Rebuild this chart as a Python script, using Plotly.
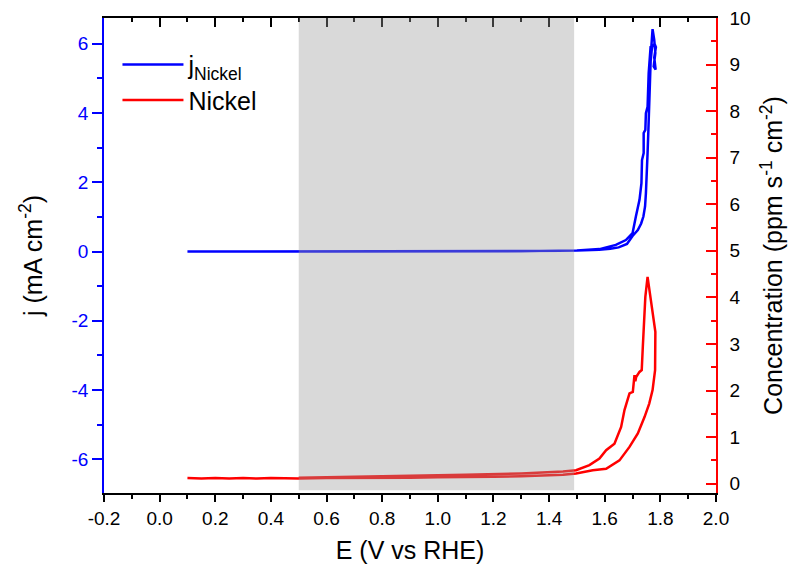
import plotly.graph_objects as go

# ---------------- data ----------------
# Blue: current density j (mA cm^-2) vs E (V vs RHE)
blue_E = [0.10, 0.30, 0.50, 0.70, 0.90, 1.10, 1.30, 1.45, 1.50, 1.55, 1.58, 1.62, 1.65, 1.68,
          1.700, 1.719, 1.731, 1.739, 1.745, 1.748, 1.752, 1.754, 1.757, 1.760, 1.763, 1.766, 1.772,
          1.778, 1.782, 1.776, 1.783, 1.778, 1.784, 1.779, 1.770, 1.762, 1.765, 1.760, 1.758,
          1.754, 1.748, 1.746, 1.740, 1.740, 1.734, 1.732, 1.725, 1.712, 1.708, 1.700, 1.676,
          1.640, 1.581, 1.50, 1.30, 1.00, 0.60, 0.10]
blue_j = [0.00, 0.00, 0.00, 0.00, 0.00, 0.005, 0.01, 0.02, 0.03, 0.04, 0.05, 0.08, 0.12, 0.22,
          0.45, 0.62, 0.81, 1.01, 1.30, 1.68, 2.26, 2.84, 3.51, 4.28, 4.96, 5.73, 6.42,
          6.11, 5.73, 5.34, 5.25, 5.60, 5.90, 6.00, 5.90, 5.25, 5.92, 5.50, 5.15,
          4.18, 3.99, 3.51, 3.42, 2.84, 2.64, 1.97, 1.49, 1.01, 0.82, 0.53, 0.33,
          0.19, 0.07, 0.03, 0.01, 0.00, 0.00, 0.00]

# Red: Nickel dissolution concentration (ppm s^-1 cm^-2) vs E
red_E = [0.10, 0.15, 0.20, 0.25, 0.30, 0.35, 0.40, 0.45, 0.50, 0.60, 0.70, 0.80, 0.90, 1.00,
         1.10, 1.20, 1.30, 1.40, 1.45, 1.497, 1.557, 1.605, 1.653, 1.689, 1.719, 1.743, 1.760,
         1.772, 1.781, 1.782, 1.754, 1.746, 1.736, 1.737, 1.733, 1.725, 1.713, 1.710, 1.707,
         1.701, 1.689, 1.671, 1.659, 1.635, 1.605, 1.581, 1.545, 1.497, 1.45, 1.30, 1.10,
         0.90, 0.70, 0.50]
red_c = [0.12, 0.11, 0.12, 0.11, 0.12, 0.11, 0.12, 0.11, 0.11, 0.12, 0.12, 0.13, 0.13, 0.14,
         0.14, 0.15, 0.16, 0.18, 0.19, 0.22, 0.29, 0.32, 0.50, 0.79, 1.08, 1.43, 1.72,
         2.01, 2.44, 3.26, 4.44, 4.01, 3.01, 2.95, 2.44, 2.40, 2.29, 2.20, 2.33,
         1.97, 1.94, 1.58, 1.22, 0.86, 0.72, 0.54, 0.40, 0.29, 0.26, 0.22, 0.19,
         0.17, 0.15, 0.13]

x_ticks = [-0.2, 0.0, 0.2, 0.4, 0.6, 0.8, 1.0, 1.2, 1.4, 1.6, 1.8, 2.0]
x_ticktext = ["-0.2", "0.0", "0.2", "0.4", "0.6", "0.8", "1.0", "1.2", "1.4", "1.6", "1.8", "2.0"]
x_minor = [-0.1, 0.1, 0.3, 0.5, 0.7, 0.9, 1.1, 1.3, 1.5, 1.7, 1.9]
y_ticks = [-6, -4, -2, 0, 2, 4, 6]
y_ticktext = ["-6", "-4", "-2", "0", "2", "4", "6"]
y_minor = [-5, -3, -1, 1, 3, 5]
shade_range = [0.5, 1.49]

FONT = "Liberation Sans, Arial, sans-serif"
BLUE = "#0000ff"
RED = "#ff0000"
TICK_SIZE = 19
TITLE_SIZE = 25

fig = go.Figure()
fig.add_trace(go.Scatter(x=blue_E, y=blue_j, mode="lines", name="j<sub>Nickel</sub>",
                         line=dict(color=BLUE, width=2.5), xaxis="x", yaxis="y"))
fig.add_trace(go.Scatter(x=red_E, y=red_c, mode="lines", name="Nickel",
                         line=dict(color=RED, width=2.5), xaxis="x", yaxis="y2"))
# dummy trace to carry the top mirror axis
fig.add_trace(go.Scatter(x=[None], y=[None], xaxis="x2", yaxis="y", showlegend=False,
                         hoverinfo="skip"))

fig.add_shape(type="rect", xref="x", yref="paper", x0=shade_range[0], x1=shade_range[1],
              y0=0.006, y1=1, fillcolor="rgb(156,156,156)", opacity=0.38,
              line=dict(width=0), layer="above")

fig.update_layout(
    width=792, height=568,
    margin=dict(l=104, r=76, t=18, b=75, autoexpand=False),
    paper_bgcolor="white", plot_bgcolor="white",
    font=dict(family=FONT, size=TICK_SIZE, color="black"),
    showlegend=True,
    legend=dict(x=0.022, y=0.95, xanchor="left", yanchor="top", bgcolor="rgba(0,0,0,0)",
                font=dict(family=FONT, size=25, color="black"), itemwidth=61,
                tracegroupgap=0),
    xaxis=dict(range=[-0.2, 2.0], tickmode="array", tickvals=x_ticks, ticktext=x_ticktext,
               ticks="outside", ticklen=7, tickwidth=1.5, tickcolor="black",
               showline=True, linecolor="black", linewidth=1.5, showgrid=False, zeroline=False,
               automargin=False,
               minor=dict(tickmode="array", tickvals=x_minor, ticks="outside", ticklen=4,
                          tickwidth=1.5, tickcolor="black", showgrid=False),
               tickfont=dict(size=TICK_SIZE, color="black"),
               title=dict(text="E (V vs RHE)", font=dict(size=TITLE_SIZE, color="black"),
                          standoff=14)),
    xaxis2=dict(range=[-0.2, 2.0], overlaying="x", side="top", anchor="y",
                tickmode="array", tickvals=x_ticks, showticklabels=False,
                ticks="inside", ticklen=9, tickwidth=1.5, tickcolor="black",
                showline=True, linecolor="black", linewidth=1.5, showgrid=False, zeroline=False,
                automargin=False,
                minor=dict(tickmode="array", tickvals=x_minor, ticks="inside", ticklen=4,
                           tickwidth=1.5, tickcolor="black", showgrid=False)),
    yaxis=dict(range=[-6.97, 6.74], tickmode="array", tickvals=y_ticks, ticktext=y_ticktext,
               ticks="outside", ticklen=10, tickwidth=1.5, tickcolor=BLUE,
               showline=True, linecolor=BLUE, linewidth=1.5, showgrid=False, zeroline=False,
               automargin=False,
               minor=dict(tickmode="array", tickvals=y_minor, ticks="outside", ticklen=5,
                          tickwidth=1.5, tickcolor=BLUE, showgrid=False),
               tickfont=dict(size=TICK_SIZE, color=BLUE),
               title=dict(text="j (mA cm<sup>-2</sup>)", font=dict(size=TITLE_SIZE, color="black"),
                          standoff=22)),
    yaxis2=dict(range=[-0.2, 10], overlaying="y", side="right", anchor="x",
                tickmode="linear", tick0=0, dtick=1,
                ticks="inside", ticklen=10, tickwidth=1.5, tickcolor=RED,
                showline=True, linecolor=RED, linewidth=1.5, showgrid=False, zeroline=False,
                automargin=False,
                minor=dict(dtick=0.5, ticks="inside", ticklen=5, tickwidth=1.5,
                           tickcolor=RED, showgrid=False),
                ticklabelstandoff=8,
                tickfont=dict(size=TICK_SIZE, color="black"),
                title=dict(text="Concentration (ppm s<sup>-1</sup> cm<sup>-2</sup>)",
                           font=dict(size=TITLE_SIZE, color="black"), standoff=15)),
)

fig.write_html("out.html")
